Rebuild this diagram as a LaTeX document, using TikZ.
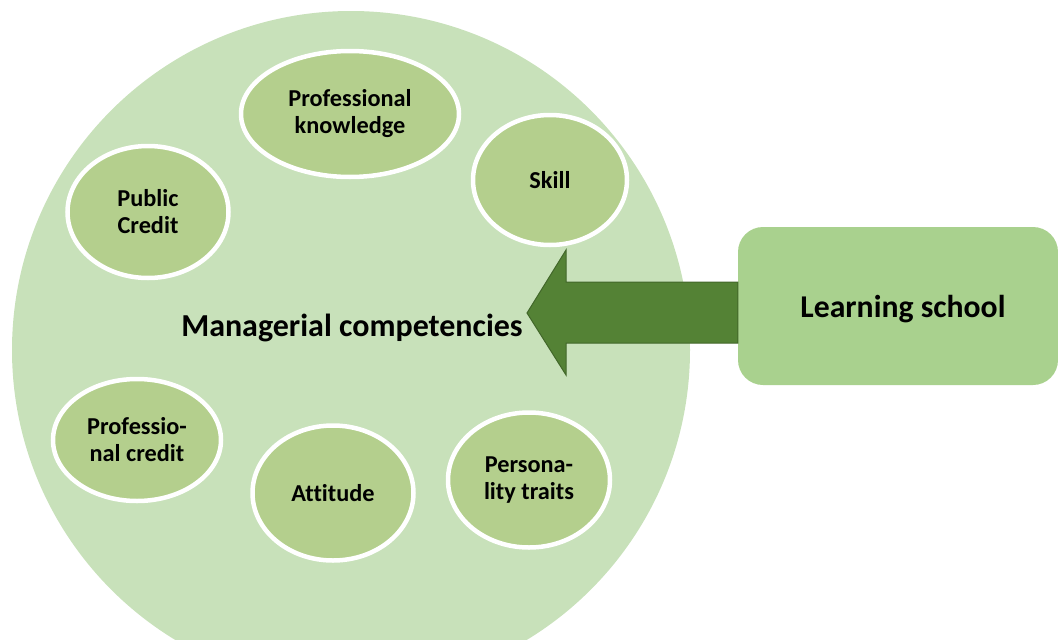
\documentclass[tikz,border=0pt]{standalone}
\usepackage{fontspec}
\setmainfont[Ligatures=NoCommon]{Carlito}
\usetikzlibrary{positioning, shapes.geometric}

\definecolor{circlegreen}{HTML}{C8E1BA}
\definecolor{bubblegreen}{HTML}{B4CF8D}
\definecolor{boxgreen}{HTML}{A9D18E}
\definecolor{arrowgreen}{HTML}{548235}
\definecolor{arrowedge}{HTML}{42672A}

\begin{document}
\begin{tikzpicture}[x=1pt, y=-1pt,
    bubble/.style={ellipse, draw=white, line width=4.5pt, fill=bubblegreen,
        inner sep=0pt, align=center, font=\fontsize{24.3}{27}\selectfont\bfseries},
    schoolbox/.style={rectangle, rounded corners=25pt, fill=boxgreen, text depth=0pt,
        minimum width=320pt, minimum height=158pt, font=\fontsize{31.7}{36}\selectfont\bfseries}]

% page frame
\useasboundingbox (0,0) rectangle (1058,640);
\clip (0,0) rectangle (1058,640);

% the big light green circle
\fill[circlegreen] (351,350) circle (339);

% the six competencies round the circle
\node[bubble, minimum width=218pt, minimum height=126pt] (knowledge) at (350,114) {Professional\\knowledge};
\node[bubble, minimum width=154pt, minimum height=130pt] (skill) at (550,180) {Skill};
\node[bubble, minimum width=161pt, minimum height=132pt] (public) at (148,212) {Public\\Credit};
\node[bubble, minimum width=168pt, minimum height=122pt] (profcredit) at (137,440) {Professio-\\nal credit};
\node[bubble, minimum width=161pt, minimum height=135pt] (attitude) at (333,493) {Attitude};
\node[bubble, minimum width=162pt, minimum height=135pt] (traits) at (529,480) {Persona-\\lity traits};

% label in the middle
\node[font=\fontsize{32}{38}\selectfont\bfseries] (managerial) at (352,328) {Managerial competencies};

% box on the right
\node[schoolbox] (school) at (898,306) {\hspace*{10pt}Learning school};

% wide arrow from the box into the circle
\coordinate (tip) at (527,313);
\fill[arrowgreen, draw=arrowedge, line width=1pt]
    (tip) -- (566,250) -- (566,282) -- (school.west |- 0,282)
    -- (school.west |- 0,343) -- (566,343) -- (566,375) -- cycle;

\end{tikzpicture}
\end{document}
